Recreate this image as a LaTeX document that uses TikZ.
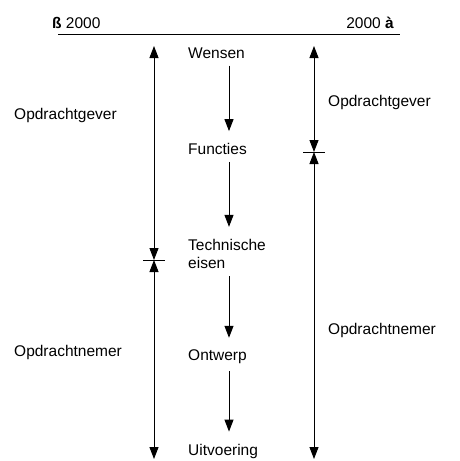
\documentclass[tikz,border=0pt]{standalone}
\usepackage{fontspec}
\setmainfont{Liberation Sans}
\usetikzlibrary{arrows.meta,positioning}
\begin{document}
\begin{tikzpicture}[x=1pt,y=-1pt,>={Triangle[length=12pt,width=9pt]},
  txt/.style={anchor=west,inner sep=0pt,font=\fontsize{15.5}{18.5}\selectfont},
  pijl/.style={->,line width=1pt},
  streep/.style={line width=0.8pt}]
\useasboundingbox (0,0) rectangle (459,461);
% kop
\draw[streep] (58,34)--(400,34);
\node[txt,anchor=base west] (links) at (52,28) {\textbf{ß} 2000};
\node[txt,anchor=base east] (rechts) at (394,28) {2000 \textbf{à}};
% middelste kolom
\coordinate (mx) at (229,0);
\node[txt] (wensen) at (188,53) {Wensen};
\node[txt] (functies) at (188,149) {Functies};
\node[txt,align=left] (technisch) at (188,254) {Technische\\eisen};
\node[txt] (ontwerp) at (188,357) {Ontwerp};
\node[txt] (uitvoering) at (188,451) {Uitvoering};
\draw[pijl] ([yshift=-7pt]wensen.south -| mx) -- ([yshift=12pt]functies.north -| mx);
\draw[pijl] ([yshift=-7pt]functies.south -| mx) -- ([yshift=12pt]technisch.north -| mx);
\draw[pijl] ([yshift=-7pt]technisch.south -| mx) -- ([yshift=12pt]ontwerp.north -| mx);
\draw[pijl] ([yshift=-7pt]ontwerp.south -| mx) -- ([yshift=12pt]uitvoering.north -| mx);
% linker pijlen
\coordinate (ltop) at (154,46);
\coordinate (lmid) at (154,260);
\coordinate (lbot) at (154,459);
\draw[pijl,<->] (ltop) -- (lmid);
\draw[pijl,<->] (lmid) -- (lbot);
\draw[streep] ([xshift=-11pt]lmid) -- ([xshift=11pt]lmid);
% rechter pijlen
\coordinate (rtop) at (314,46);
\coordinate (rmid) at (314,152);
\coordinate (rbot) at (314,459);
\draw[pijl,<->] (rtop) -- (rmid);
\draw[pijl,<->] (rmid) -- (rbot);
\draw[streep] ([xshift=-11pt]rmid) -- ([xshift=11pt]rmid);
% partijen
\node[txt] (gever1) at (14,115) {Opdrachtgever};
\node[txt] (gever2) at (328,102) {Opdrachtgever};
\node[txt] (nemer2) at (328,330) {Opdrachtnemer};
\node[txt] (nemer1) at (14,352) {Opdrachtnemer};
\end{tikzpicture}
\end{document}
